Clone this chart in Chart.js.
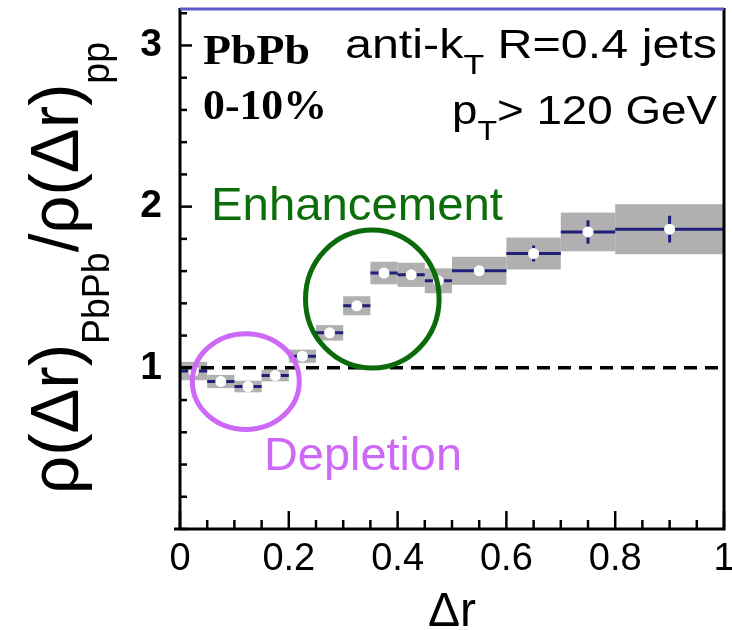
<!DOCTYPE html>
<html>
<head>
<meta charset="utf-8">
<title>Jet shape ratio PbPb/pp</title>
<script src="https://cdn.jsdelivr.net/npm/chart.js@4.4.1/dist/chart.umd.min.js"></script>
<style>
    html, body { margin: 0; padding: 0; background: #ffffff; }
    #wrap { width: 732px; height: 630px; }
</style>
</head>
<body>
<div id="wrap"><canvas id="ratioChart" width="732" height="630"></canvas></div>
<script>
// Differential jet shape ratio, PbPb 0-10% over pp
const binLow  = [0, 0.05, 0.10, 0.15, 0.20, 0.25, 0.30, 0.35, 0.40, 0.45, 0.5, 0.6, 0.7, 0.8];
const binHigh = [0.05, 0.10, 0.15, 0.20, 0.25, 0.30, 0.35, 0.40, 0.45, 0.5, 0.6, 0.7, 0.8, 1.0];
const ratio   = [0.98, 0.915, 0.884, 0.952, 1.072, 1.217, 1.385, 1.588, 1.577, 1.54, 1.602, 1.709, 1.843, 1.86];
const sysErr  = [0.057, 0.041, 0.036, 0.036, 0.041, 0.048, 0.059, 0.070, 0.075, 0.077, 0.087, 0.099, 0.120, 0.155];
const statErr = [0.008, 0.008, 0.008, 0.008, 0.009, 0.010, 0.012, 0.014, 0.016, 0.018, 0.024, 0.050, 0.073, 0.083];
const xTickLabels = ['0', '0.2', '0.4', '0.6', '0.8', '1'];
const yTickLabels = ['1', '2', '3'];

const NAVY = '#1f1f7a';
const SANS = '"Liberation Sans", Arial, Helvetica, sans-serif';
const SERIF = '"Liberation Serif", "Times New Roman", serif';

// build the datasets from the arrays above
const binCenter = binLow.map((lo, i) => (lo + binHigh[i]) / 2);
const binLines = [];
const statBars = [];
binLow.forEach((lo, i) => {
    binLines.push({x: lo, y: ratio[i]}, {x: binHigh[i], y: ratio[i]}, {x: binHigh[i], y: null});
    statBars.push({x: binCenter[i], y: ratio[i] - statErr[i]}, {x: binCenter[i], y: ratio[i] + statErr[i]}, {x: binCenter[i], y: null});
});
const markers = binCenter.map((c, i) => ({x: c, y: ratio[i]}));

// draw a run of text pieces (with sub-scripts) stretched to a given length
function fitText(ctx, pieces, x0, y0, length, color, angle) {
    let total = 0;
    pieces.forEach(p => {
        ctx.font = p.font;
        p.w = ctx.measureText(p.text).width;
        total += p.w;
    });
    ctx.save();
    ctx.translate(x0, y0);
    if (angle) ctx.rotate(angle);
    ctx.scale(length / total, 1);
    ctx.fillStyle = color;
    ctx.textAlign = 'left';
    ctx.textBaseline = 'alphabetic';
    let x = 0;
    pieces.forEach(p => {
        ctx.font = p.font;
        ctx.fillText(p.text, x, p.dy || 0);
        x += p.w;
    });
    ctx.restore();
}

// grey systematic boxes behind the points
const sysBoxes = {
    id: 'sysBoxes',
    beforeDatasetsDraw(chart) {
        const {ctx, scales: {x, y}} = chart;
        ctx.save();
        ctx.fillStyle = '#b0b0b0';
        binLow.forEach((lo, i) => {
            const left = x.getPixelForValue(lo);
            const right = x.getPixelForValue(binHigh[i]);
            const top = y.getPixelForValue(ratio[i] + sysErr[i]);
            const bottom = y.getPixelForValue(ratio[i] - sysErr[i]);
            ctx.fillRect(left, top, right - left, bottom - top);
        });
        ctx.restore();
    }
};

// frame, inward ticks, titles and annotations
const decorations = {
    id: 'decorations',
    afterDraw(chart) {
        const {ctx, chartArea: a, scales: {x, y}} = chart;
        ctx.save();

        // inward tick marks
        ctx.strokeStyle = '#000';
        ctx.lineWidth = 2.5;
        x.ticks.forEach(t => {
            const px = x.getPixelForValue(t.value);
            const len = t.label ? 18 : 9;
            ctx.beginPath();
            ctx.moveTo(px, a.bottom);
            ctx.lineTo(px, a.bottom - len);
            ctx.stroke();
        });
        y.ticks.forEach(t => {
            const py = y.getPixelForValue(t.value);
            const len = t.label ? 12 : 7;
            ctx.beginPath();
            ctx.moveTo(a.left, py);
            ctx.lineTo(a.left + len, py);
            ctx.stroke();
        });

        // frame
        ctx.lineWidth = 3;
        ctx.beginPath();
        ctx.moveTo(a.left, a.top - 2);
        ctx.lineTo(a.left, a.bottom);
        ctx.moveTo(a.left - 6, a.bottom);
        ctx.lineTo(a.right, a.bottom);
        ctx.lineTo(a.right, a.top - 2);
        ctx.stroke();
        ctx.strokeStyle = '#5a5acc';
        ctx.beginPath();
        ctx.moveTo(a.left, a.top - 1);
        ctx.lineTo(a.right, a.top - 1);
        ctx.stroke();

        // highlight circles
        ctx.lineWidth = 5;
        ctx.strokeStyle = '#0b6b0b';
        ctx.beginPath();
        ctx.ellipse(x.getPixelForValue(0.3535), y.getPixelForValue(1.427),
            x.getPixelForValue(0.1228) - x.getPixelForValue(0), y.getPixelForValue(0) - y.getPixelForValue(0.428), 0, 0, Math.PI * 2);
        ctx.stroke();
        ctx.strokeStyle = '#cd68f7';
        ctx.beginPath();
        ctx.ellipse(x.getPixelForValue(0.121), y.getPixelForValue(0.915),
            x.getPixelForValue(0.0983) - x.getPixelForValue(0), y.getPixelForValue(0) - y.getPixelForValue(0.297), 0, 0, Math.PI * 2);
        ctx.stroke();
        ctx.restore();

        // y axis title with sub-scripts, rotated
        const main = '68px ' + SANS;
        const sub = '38px ' + SANS;
        fitText(ctx, [
            {text: 'ρ(Δr)', font: main},
            {text: 'PbPb', font: sub, dy: 31},
            {text: '/ρ(Δr)', font: main},
            {text: 'pp', font: sub, dy: 31}
        ], 78, 494, 452, '#000', -Math.PI / 2);

        // labels in the top corners
        const serifBold = 'bold 42px ' + SERIF;
        fitText(ctx, [{text: 'PbPb', font: serifBold}], 203, 64, 107, '#000');
        fitText(ctx, [{text: '0-10%', font: serifBold}], 203, 119, 124, '#000');
        const big = '40px ' + SANS;
        const small = '28px ' + SANS;
        fitText(ctx, [
            {text: 'anti-k', font: big},
            {text: 'T', font: small, dy: 16},
            {text: ' R=0.4 jets', font: big}
        ], 345, 58, 372, '#000');
        fitText(ctx, [
            {text: 'p', font: big},
            {text: 'T', font: small, dy: 16},
            {text: '> 120 GeV', font: big}
        ], 452, 124, 265, '#000');

        // annotation words
        fitText(ctx, [{text: 'Enhancement', font: '46px ' + SANS}], 211, 220, 292, '#0b6e0b');
        fitText(ctx, [{text: 'Depletion', font: '46px ' + SANS}], 264, 470, 198, '#cd68f7');
    }
};

const ctx = document.getElementById('ratioChart').getContext('2d');
new Chart(ctx, {
    type: 'scatter',
    data: {
        datasets: [
            {
                label: 'unity',
                data: [{x: 0, y: 1}, {x: 1, y: 1}],
                showLine: true,
                borderColor: '#000',
                borderWidth: 3.5,
                borderDash: [13, 8],
                pointRadius: 0,
                order: 0
            },
            {
                label: 'ratio',
                data: markers,
                pointRadius: 5.5,
                pointBackgroundColor: '#ffffff',
                pointBorderWidth: 0,
                order: 1
            },
            {
                label: 'stat',
                data: statBars,
                showLine: true,
                spanGaps: false,
                borderColor: NAVY,
                borderWidth: 3,
                pointRadius: 0,
                order: 2
            },
            {
                label: 'bins',
                data: binLines,
                showLine: true,
                spanGaps: false,
                borderColor: NAVY,
                borderWidth: 3,
                pointRadius: 0,
                order: 3
            }
        ]
    },
    options: {
        responsive: false,
        animation: false,
        devicePixelRatio: 1,
        layout: {padding: {left: 0, top: 10, right: 8, bottom: 0}},
        plugins: {
            legend: {display: false},
            tooltip: {enabled: false}
        },
        scales: {
            x: {
                type: 'linear',
                min: 0,
                max: 1,
                grid: {display: false, drawTicks: false},
                border: {display: false},
                ticks: {
                    stepSize: 0.05,
                    autoSkip: false,
                    maxRotation: 0,
                    padding: 8,
                    color: '#000',
                    font: {family: SANS, size: 38},
                    callback: function(value) {
                        return xTickLabels.find(s => Math.abs(Number(s) - value) < 1e-6) || '';
                    }
                },
                title: {
                    display: true,
                    text: 'Δr',
                    color: '#000',
                    font: {family: SANS, size: 48, lineHeight: 0.7},
                    padding: {top: 0, bottom: 0}
                },
                afterFit: function(scale) {
                    scale.height = 101;
                    scale.paddingLeft = 0;
                    scale.paddingRight = 0;
                }
            },
            y: {
                type: 'linear',
                min: 0,
                max: 3.22,
                grid: {display: false, drawTicks: false},
                border: {display: false},
                ticks: {
                    stepSize: 0.2,
                    includeBounds: false,
                    autoSkip: false,
                    padding: 18,
                    color: '#000',
                    font: {family: SANS, size: 39, weight: 'bold'},
                    callback: function(value) {
                        return yTickLabels.find(s => Math.abs(Number(s) - value) < 1e-6) || '';
                    }
                },
                afterFit: function(scale) {
                    scale.width = 180;
                    scale.paddingTop = 0;
                    scale.paddingBottom = 0;
                }
            }
        }
    },
    plugins: [sysBoxes, decorations]
});
</script>
</body>
</html>
